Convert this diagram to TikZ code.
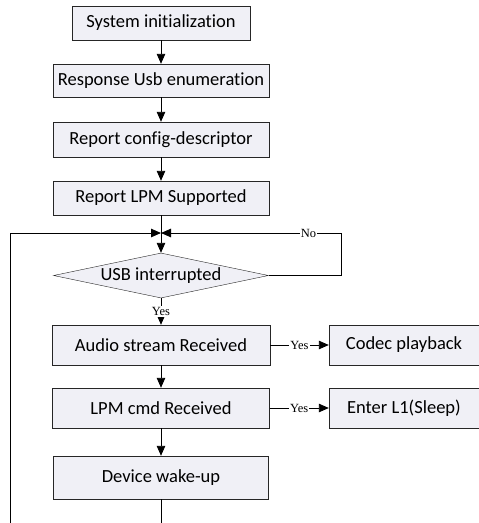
\documentclass[tikz,border=0pt]{standalone}
\usepackage{fontspec}
\setmainfont{Carlito}[Ligatures=NoCommon]
\newfontfamily\tagfont{Liberation Serif}
\usepackage{xcolor}
\usetikzlibrary{shapes.geometric, arrows.meta, positioning, calc}
\definecolor{boxfill}{RGB}{240,240,246}

\begin{document}
\begin{tikzpicture}[
    x=1pt, y=-1pt,
    box/.style={draw=black!85, rectangle, fill=boxfill, inner sep=0pt, minimum width=216pt, minimum height=35pt, font=\fontsize{18.5}{20}\selectfont},
    side/.style={box, minimum width=150pt, minimum height=40pt},
    decision/.style={draw=black!85, diamond, aspect=4.8, fill=boxfill, inner sep=0pt, minimum width=215pt, minimum height=45pt, font=\fontsize{18.5}{20}\selectfont},
    arrow/.style={-{Triangle[length=10pt, width=8.5pt]}, line width=0.9pt},
    line/.style={line width=0.9pt},
    tag/.style={fill=white, inner sep=1pt, font=\tagfont\fontsize{12.5}{13}\selectfont}
]
\useasboundingbox (0,0) rectangle (479,523);

\node[box, minimum width=178pt, minimum height=34pt] (init) at (161,23) {System initialization};
\node[box, minimum height=33pt] (enum) at (161,80.5) {Response Usb enumeration};
\node[box] (config) at (161,139.5) {Report config-descriptor};
\node[box, minimum height=34pt] (lpmsup) at (161,198) {Report LPM Supported};
\coordinate (join) at (161,233);
\node[decision] (usbint) at (161,275.5) {USB interrupted};
\node[box, minimum width=218pt, minimum height=40pt] (audio) at (161,345) {Audio stream Received};
\node[side] (codec) at (404,345) {Codec playback};
\node[box, minimum width=217pt, minimum height=40pt] (lpmcmd) at (161,408) {LPM cmd Received};
\node[side] (sleep) at (404,408) {Enter L1(Sleep)};
\node[box, minimum width=215pt, minimum height=43pt] (wake) at (161,477.5) {Device wake-up};
\coordinate (nocorner) at (341,233);
\coordinate (wakeout) at (161,523);
\coordinate (loopdown) at (10,523);

\draw[arrow] (init) -- (enum);
\draw[arrow] (enum) -- (config);
\draw[arrow] (config) -- (lpmsup);
\draw[arrow] (lpmsup) -- (usbint.north);
\draw[line] (usbint.east) -| (nocorner);
\draw[arrow] (nocorner) -- node[tag, pos=0.18] {No} (join);
\draw[arrow] (loopdown) |- (join);
\draw[arrow] (usbint) -- node[tag] {Yes} (audio);
\draw[arrow] (audio) -- node[tag] {Yes} (codec);
\draw[arrow] (lpmcmd) -- node[tag] {Yes} (sleep);
\draw[arrow] (audio) -- (lpmcmd);
\draw[arrow] (lpmcmd) -- (wake);
\draw[line] (wake) -- (wakeout);

\end{tikzpicture}
\end{document}
